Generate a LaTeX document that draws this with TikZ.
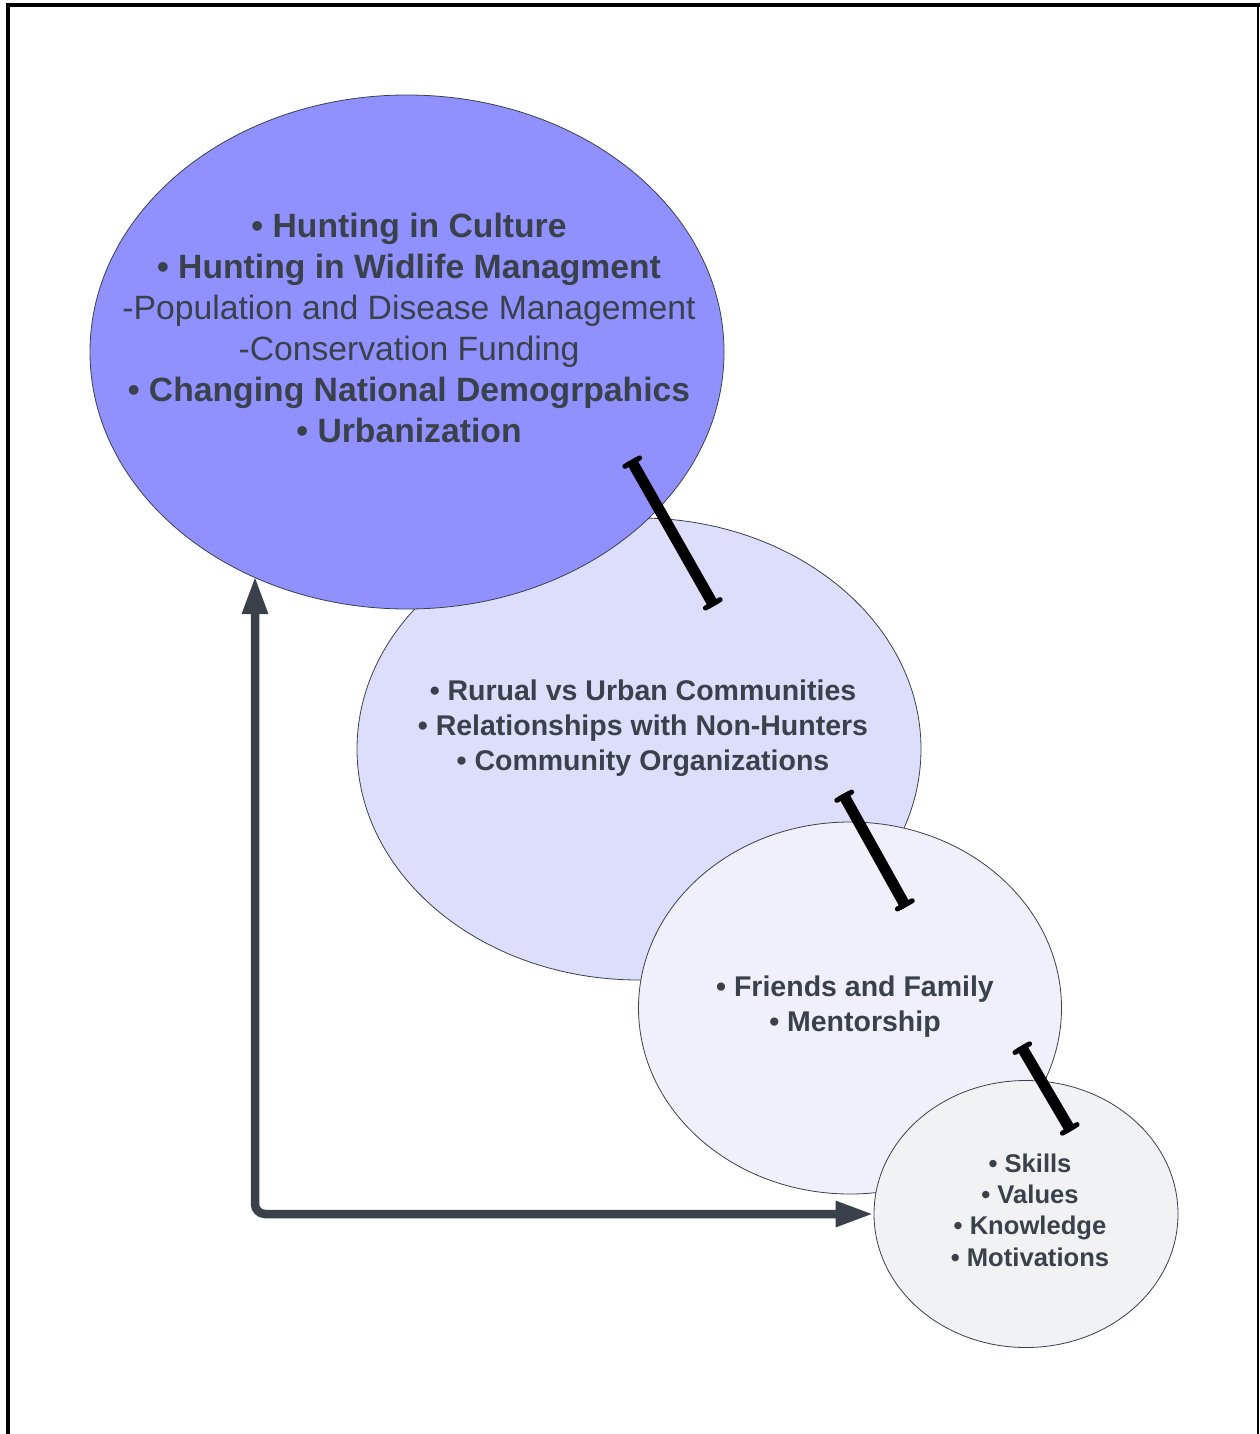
\documentclass[tikz,border=0pt]{standalone}
\usepackage{fontspec}
\setmainfont{Liberation Sans}
\usetikzlibrary{shapes.geometric,arrows.meta}
\definecolor{txt}{HTML}{3A414A}
\definecolor{cone}{HTML}{9090FF}
\definecolor{ctwo}{HTML}{DDDDFC}
\definecolor{cthree}{HTML}{F0F0FD}
\definecolor{cfour}{HTML}{F1F2F4}
\begin{document}
\begin{tikzpicture}[x=1pt,y=-1pt,
  ell/.style={ellipse, draw=txt, line width=0.8pt, inner sep=0pt},
  bigtext/.style={text=txt, align=center, inner sep=0pt, font=\fontsize{33.7}{41}\selectfont},
  midtext/.style={text=txt, align=center, inner sep=0pt, font=\fontsize{28.5}{35}\selectfont\bfseries},
  smalltext/.style={text=txt, align=center, inner sep=0pt, font=\fontsize{25.6}{31.3}\selectfont\bfseries},
  connline/.style={black, line width=11pt, line cap=butt},
  conncap/.style={black, line width=1pt, arrows={Bar[width=17pt,line width=5pt,round]-Bar[width=17pt,line width=5pt,round]}},
  feedback/.style={line width=8.5pt, txt, rounded corners=10pt, {Triangle[length=38pt,width=24pt]}-{Triangle[length=38pt,width=24pt]}},
  frame/.style={black, line cap=rect}
]
\useasboundingbox (0,0) rectangle (1259,1434);
% frame
\draw[frame, line width=4pt] (8,1440) -- (8,5) -- (1259,5);
\draw[black, line width=2pt] (1257.5,5) -- (1257.5,1440);

% ellipses (drawing order matters)
\node[ell, fill=ctwo, minimum width=564pt, minimum height=462pt] (e2) at (639,749) {};
\node[ell, fill=cone, minimum width=634pt, minimum height=514pt] (e1) at (407,352) {};
\node[ell, fill=cthree, minimum width=423pt, minimum height=372pt] (e3) at (850,1008) {};
\node[ell, fill=cfour, minimum width=304pt, minimum height=267pt] (e4) at (1026,1214) {};

% texts
\node[bigtext] (t1) at (409,328) {\textbf{• Hunting in Culture}\\
\textbf{• Hunting in Widlife Managment}\\
-Population and Disease Management\\
-Conservation Funding\\
\textbf{• Changing National Demogrpahics}\\
\textbf{• Urbanization}};
\node[midtext] (t2) at (643,728) {• Rurual vs Urban Communities\\
• Relationships with Non-Hunters\\
• Community Organizations};
\node[midtext] (t3) at (855,1007) {• Friends and Family\\
• Mentorship};
\node[smalltext] (t4) at (1030,1210) {• Skills\\
• Values\\
• Knowledge\\
• Motivations};

% connectors
\coordinate (a1) at (631,460);
\coordinate (b1) at (714,606);
\coordinate (a2) at (843,794);
\coordinate (b2) at (906,907);
\coordinate (a3) at (1021,1046);
\coordinate (b3) at (1071,1131);
\draw[connline] (a1) -- (b1);
\draw[conncap] (a1) -- (b1);
\draw[connline] (a2) -- (b2);
\draw[conncap] (a2) -- (b2);
\draw[connline] (a3) -- (b3);
\draw[conncap] (a3) -- (b3);

% feedback arrow
\coordinate (fbtop) at (255,576);
\draw[feedback] (fbtop) |- (e4.west);
\end{tikzpicture}
\end{document}
